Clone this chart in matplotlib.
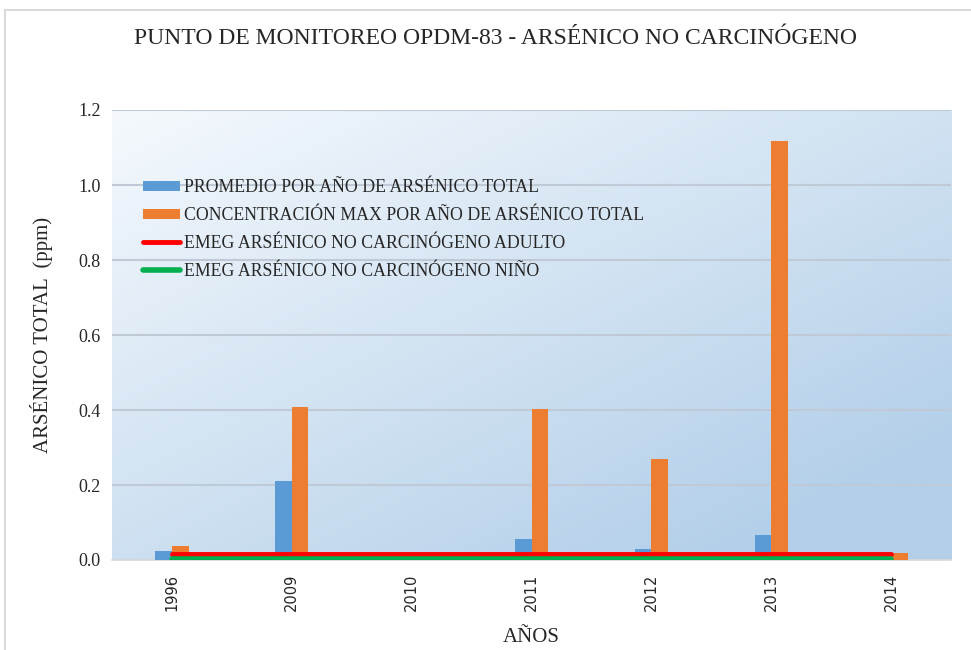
import numpy as np
import matplotlib
matplotlib.use("Agg")
import matplotlib.pyplot as plt
from matplotlib.patches import Rectangle

years = ["1996", "2009", "2010", "2011", "2012", "2013", "2014"]
promedio = [0.025, 0.210, 0.0, 0.056, 0.029, 0.067, 0.0]
maximo = [0.037, 0.408, 0.0, 0.402, 0.269, 1.117, 0.018]
emeg_adulto = [0.015] * 7
emeg_nino = [0.004] * 7

title = "PUNTO DE MONITOREO OPDM-83 - ARSÉNICO NO CARCINÓGENO"
labels = ["PROMEDIO POR AÑO DE ARSÉNICO TOTAL",
          "CONCENTRACIÓN MAX POR AÑO DE ARSÉNICO TOTAL",
          "EMEG ARSÉNICO NO CARCINÓGENO ADULTO",
          "EMEG ARSÉNICO NO CARCINÓGENO NIÑO"]

serif = "Liberation Serif"
W, H = 971, 650
fig = plt.figure(figsize=(W / 100, H / 100), dpi=100)
fig.patch.set_facecolor("white")

# outer chart border
fig.patches.append(Rectangle((5 / W, -0.1), 1.2, 1 - 10 / H + 0.1, transform=fig.transFigure,
                             fill=False, edgecolor="#d9d9d9", linewidth=1.5, zorder=0))

ax = fig.add_axes([112 / W, 1 - 560 / H, (951 - 112) / W, (560 - 110) / H])

# gradient background (light top-left -> blue bottom-right)
n = 200
xx, rr = np.meshgrid(np.linspace(0, 1, n), np.linspace(0, 1, n))  # rr: 0 at top row
t = np.clip(xx * 0.55 + rr * 0.6, 0, 1)
c0 = np.array([0xf5, 0xf9, 0xfd]) / 255
c1 = np.array([0xb3, 0xcf, 0xe9]) / 255
img = c0[None, None, :] * (1 - t[..., None]) + c1[None, None, :] * t[..., None]
ax.imshow(img, extent=[0, 1, 0, 1], transform=ax.transAxes, origin="upper",
          aspect="auto", zorder=0)

x = np.arange(len(years))
bw = 0.139
b1 = ax.bar(x - bw / 2, promedio, width=bw, color="#5b9bd5", zorder=3, label=labels[0])
b2 = ax.bar(x + bw / 2, maximo, width=bw, color="#ed7d31", zorder=3, label=labels[1])
l1, = ax.plot(x, emeg_adulto, color="#ff0000", linewidth=3.5, zorder=4, label=labels[2],
              solid_capstyle="round")
l2, = ax.plot(x, emeg_nino, color="#00b050", linewidth=4, zorder=4, label=labels[3],
              solid_capstyle="round")

ax.set_xlim(-0.5, len(years) - 0.5)
ax.set_ylim(0, 1.2)
ax.set_yticks(np.arange(0, 1.21, 0.2))
ax.set_yticklabels([f"{v:.1f}" for v in np.arange(0, 1.21, 0.2)],
                   fontfamily=serif, fontsize=13, color="#262626")
ax.set_xticks(x)
ax.set_xticklabels(years, rotation=90, fontfamily="DejaVu Sans", fontsize=10.5, color="#262626")
ax.tick_params(length=0, pad=8)
ax.tick_params(axis="x", pad=10)
ax.grid(axis="y", color="#c0cad6", linewidth=1.5, zorder=1)
ax.set_axisbelow(True)
for s in ["top", "right", "left"]:
    ax.spines[s].set_visible(False)
ax.spines["bottom"].set_color("#d9d9d9")
ax.spines["bottom"].set_linewidth(1.2)

ax.set_ylabel("ARSÉNICO TOTAL  (ppm)", fontfamily=serif, fontsize=15, color="#262626",
              labelpad=18)
ax.set_xlabel("AÑOS", fontfamily=serif, fontsize=15, color="#262626", labelpad=12)

fig.text(495 / W, 1 - 38 / H, title, ha="center", va="center", fontfamily=serif,
         fontsize=17, color="#262626")

leg = ax.legend([b1, b2, l1, l2], labels, loc="upper left",
                bbox_to_anchor=(24 / 839, 1 - 62 / 450), frameon=False,
                prop={"family": serif, "size": 12.8}, handlelength=2.1, handleheight=0.5,
                handletextpad=0.2, labelspacing=0.62, borderaxespad=0)
for txt in leg.get_texts():
    txt.set_color("#262626")

fig.savefig("out.png", dpi=100)
